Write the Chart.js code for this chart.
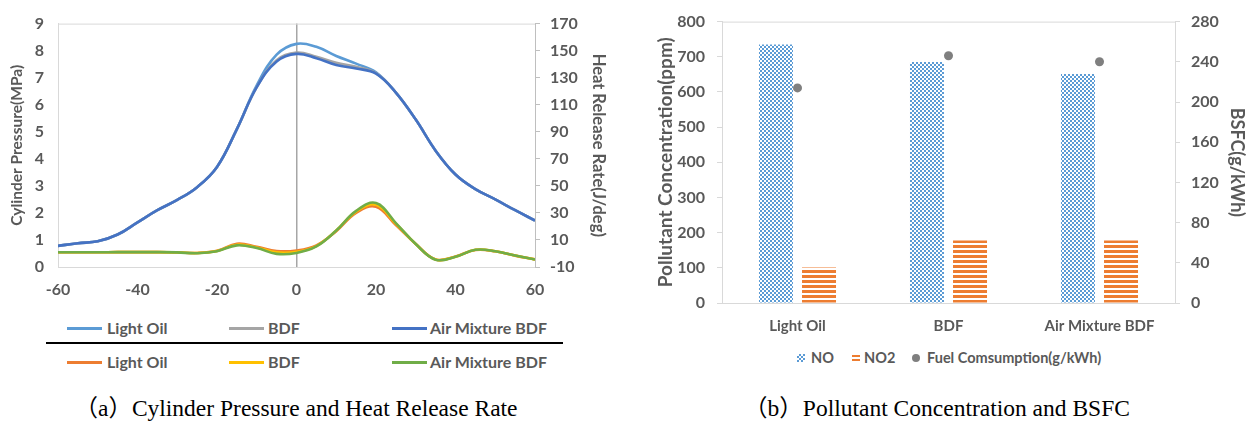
<html>
<head>
<script src="https://cdn.jsdelivr.net/npm/chart.js"></script>
<style>
  body { margin: 0; background: #fff; }
  #wrap { position: relative; width: 1255px; height: 425px; overflow: hidden; font-family: Lato, sans-serif; font-weight: bold; color: #595959; }
  .abs { position: absolute; }
  .lg { position: absolute; font-size: 16px; line-height: 18px; white-space: nowrap; }
  .ln { position: absolute; height: 3px; width: 35px; }
  .cap { position: absolute; font-family: "Liberation Serif", "Noto Sans CJK SC", serif; font-weight: normal; color: #000; font-size: 23.5px; line-height: 28px; white-space: nowrap; transform: translateX(-50%); }
  .lg2 { position: absolute; font-size: 14.5px; line-height: 16px; white-space: nowrap; }
</style>
</head>
<body>
<div id="wrap">
  <canvas id="pressureChart" class="abs" style="left:0;top:0" width="620" height="300"></canvas>
  <canvas id="emissionChart" class="abs" style="left:630px;top:0" width="625" height="340"></canvas>

  <!-- legend (a) -->
  <div class="ln" style="left:67px;top:327px;background:#5B9BD5"></div>
  <div class="lg" style="left:107px;top:319px">Light Oil</div>
  <div class="ln" style="left:229px;top:327px;background:#A5A5A5"></div>
  <div class="lg" style="left:268px;top:319px">BDF</div>
  <div class="ln" style="left:392px;top:327px;background:#4472C4"></div>
  <div class="lg" style="left:430px;top:319px">Air Mixture BDF</div>
  <div class="abs" style="left:46px;top:342px;width:517px;height:2px;background:#000"></div>
  <div class="ln" style="left:67px;top:361px;background:#ED7D31"></div>
  <div class="lg" style="left:107px;top:353px">Light Oil</div>
  <div class="ln" style="left:229px;top:361px;background:#FFC000"></div>
  <div class="lg" style="left:268px;top:353px">BDF</div>
  <div class="ln" style="left:392px;top:361px;background:#70AD47"></div>
  <div class="lg" style="left:430px;top:353px">Air Mixture BDF</div>
  <div class="cap" style="left:296px;top:394px">（a）Cylinder Pressure and Heat Release Rate</div>

  <!-- legend (b) -->
  <div class="abs" style="left:797px;top:354px;width:8px;height:8px;background-image:conic-gradient(#5B9BD5 25%, #fff 0 50%, #5B9BD5 0 75%, #fff 0);background-size:4px 4px"></div>
  <div class="lg2" style="left:811px;top:350px">NO</div>
  <div class="abs" style="left:852px;top:355px;width:8px;height:7px;background:repeating-linear-gradient(#ED7D31 0 2px, #fff 2px 4px)"></div>
  <div class="lg2" style="left:864px;top:350px">NO2</div>
  <div class="abs" style="left:912px;top:354px;width:8px;height:8px;border-radius:50%;background:#7f7f7f"></div>
  <div class="lg2" style="left:927px;top:350px">Fuel Comsumption(g/kWh)</div>
  <div class="cap" style="left:937px;top:394px">（b）Pollutant Concentration and BSFC</div>
</div>

<script>
// crank angle (deg)
const angles = [-60, -55, -50, -45, -40, -35, -30, -25, -20, -15, -10, -5, 0, 5, 10, 15, 20, 25, 30, 35, 40, 45, 50, 55, 60]

// cylinder pressure (MPa)
const pressureLightOil = [0.78, 0.88, 0.95, 1.2, 1.65, 2.1, 2.48, 2.95, 3.7, 5.1, 6.72, 7.85, 8.25, 8.14, 7.8, 7.52, 7.2, 6.45, 5.45, 4.3, 3.42, 2.88, 2.5, 2.1, 1.72]
const pressureBDF = [0.78, 0.88, 0.95, 1.2, 1.65, 2.1, 2.48, 2.95, 3.7, 5.1, 6.65, 7.65, 7.93, 7.77, 7.55, 7.4, 7.17, 6.45, 5.45, 4.3, 3.42, 2.88, 2.5, 2.1, 1.72]
const pressureAirMix = [0.78, 0.88, 0.95, 1.2, 1.65, 2.1, 2.48, 2.95, 3.7, 5.1, 6.65, 7.6, 7.88, 7.72, 7.47, 7.34, 7.15, 6.45, 5.45, 4.3, 3.42, 2.88, 2.5, 2.1, 1.72]

// heat release rate (J/deg)
const hrrLightOil = [0.9, 0.9, 0.9, 1.0, 1.0, 1.0, 0.8, 0.4, 2.0, 7.2, 5.0, 1.8, 2.2, 6.0, 16.5, 30, 34.5, 21, 7, -4.5, -2.2, 2.6, 1.6, -1.6, -4.4]
const hrrBDF = [0.9, 0.9, 0.9, 1.0, 1.0, 1.0, 0.8, 0.3, 1.8, 6.5, 4.4, 0.8, 1.2, 5.5, 17, 31, 36, 22, 7, -4.5, -2.4, 2.7, 1.7, -1.5, -4.4]
const hrrAirMix = [0.9, 0.9, 0.9, 1.0, 1.0, 1.0, 0.8, 0.2, 1.7, 6.0, 4.0, -0.3, 0.4, 5.2, 17, 31.5, 37.3, 22.5, 7, -4.6, -2.5, 2.7, 1.7, -1.5, -4.5]

// emissions / BSFC
const fuels = ['Light Oil', 'BDF', 'Air Mixture BDF']
const noPpm = [735, 685, 651]
const no2Ppm = [101, 178, 178]
const bsfc = [214, 246, 240]

const GREY = '#595959'
Chart.defaults.font.family = 'Lato'
Chart.defaults.font.weight = 'bold'
Chart.defaults.color = GREY

function bold(size) {
    return { size: size, weight: 'bold' }
}

function toPoints(ys) {
    return ys.map((y, i) => ({ x: angles[i], y: y }))
}

function lineSet(label, ys, color, axis, order) {
    return {
        label: label,
        data: toPoints(ys),
        borderColor: color,
        backgroundColor: color,
        borderWidth: 2.6,
        pointRadius: 0,
        tension: 0.4,
        yAxisID: axis,
        order: order,
    }
}

// top edge of the plot frame
const frameTop = {
    id: 'frameTop',
    afterDraw(chart) {
        const { ctx, chartArea } = chart
        ctx.save()
        ctx.strokeStyle = '#d9d9d9'
        ctx.lineWidth = 1
        ctx.beginPath()
        ctx.moveTo(chartArea.left, chartArea.top + 0.5)
        ctx.lineTo(chartArea.right, chartArea.top + 0.5)
        ctx.stroke()
        ctx.restore()
    },
}

new Chart(document.getElementById('pressureChart'), {
    type: 'line',
    data: {
        datasets: [
            lineSet('Light Oil', pressureLightOil, '#5B9BD5', 'y', 6),
            lineSet('BDF', pressureBDF, '#A5A5A5', 'y', 5),
            lineSet('Air Mixture BDF', pressureAirMix, '#4472C4', 'y', 4),
            lineSet('Light Oil', hrrLightOil, '#ED7D31', 'y1', 3),
            lineSet('BDF', hrrBDF, '#FFC000', 'y1', 2),
            lineSet('Air Mixture BDF', hrrAirMix, '#70AD47', 'y1', 1),
        ],
    },
    options: {
        responsive: false,
        animation: false,
        layout: { padding: { top: 16 } },
        plugins: { legend: { display: false }, tooltip: { enabled: false } },
        scales: {
            x: {
                type: 'linear',
                min: -60,
                max: 60,
                ticks: { stepSize: 20, padding: 13, font: bold(16) },
                grid: {
                    drawTicks: false,
                    color: (c) => (c.tick && c.tick.value === 0 ? '#a6a6a6' : 'rgba(0,0,0,0)'),
                    lineWidth: 1.5,
                },
                border: { color: '#d9d9d9' },
                afterFit: (s) => { s.height = 33 },
            },
            y: {
                position: 'left',
                min: 0,
                max: 9,
                ticks: { stepSize: 1, padding: 14, font: bold(16) },
                grid: { drawOnChartArea: false, drawTicks: false },
                border: { color: '#d9d9d9' },
                title: { display: true, text: 'Cylinder Pressure(MPa)', font: bold(15.5), padding: { top: 8 } },
                afterFit: (s) => { s.width = 58 },
            },
            y1: {
                position: 'right',
                min: -10,
                max: 170,
                ticks: { stepSize: 20, padding: 10, font: bold(16) },
                grid: { drawOnChartArea: false, tickLength: 5, color: '#bfbfbf' },
                border: { color: '#bfbfbf' },
                title: { display: true, text: 'Heat Release Rate(J/deg)', font: bold(16.5), padding: { top: 12 } },
                afterFit: (s) => { s.width = 85 },
            },
        },
    },
    plugins: [frameTop],
})

// fill patterns for the bars
function checkerPattern() {
    const c = document.createElement('canvas')
    c.width = 4
    c.height = 4
    const g = c.getContext('2d')
    g.fillStyle = '#ffffff'
    g.fillRect(0, 0, 4, 4)
    g.fillStyle = '#5B9BD5'
    g.fillRect(0, 0, 2, 2)
    g.fillRect(2, 2, 2, 2)
    return g.createPattern(c, 'repeat')
}

function stripePattern() {
    const c = document.createElement('canvas')
    c.width = 4
    c.height = 5
    const g = c.getContext('2d')
    g.fillStyle = '#ffffff'
    g.fillRect(0, 0, 4, 5)
    g.fillStyle = '#ED7D31'
    g.fillRect(0, 0, 4, 3)
    return g.createPattern(c, 'repeat')
}

new Chart(document.getElementById('emissionChart'), {
    type: 'bar',
    data: {
        labels: fuels,
        datasets: [
            {
                label: 'NO',
                data: noPpm,
                backgroundColor: checkerPattern(),
                categoryPercentage: 0.57,
                barPercentage: 0.79,
                yAxisID: 'y',
                order: 2,
            },
            {
                label: 'NO2',
                data: no2Ppm,
                backgroundColor: stripePattern(),
                categoryPercentage: 0.57,
                barPercentage: 0.79,
                yAxisID: 'y',
                order: 2,
            },
            {
                type: 'line',
                label: 'Fuel Comsumption(g/kWh)',
                data: bsfc,
                showLine: false,
                pointRadius: 4.5,
                pointBorderWidth: 0,
                pointBackgroundColor: '#7f7f7f',
                backgroundColor: '#7f7f7f',
                yAxisID: 'y1',
                order: 1,
            },
        ],
    },
    options: {
        responsive: false,
        animation: false,
        layout: { padding: { top: 16 } },
        plugins: { legend: { display: false }, tooltip: { enabled: false } },
        scales: {
            x: {
                ticks: { padding: 14, font: bold(15) },
                grid: { drawOnChartArea: false, drawTicks: false },
                border: { color: '#d9d9d9' },
                afterFit: (s) => { s.height = 37 },
            },
            y: {
                position: 'left',
                min: 0,
                max: 800,
                ticks: { stepSize: 100, padding: 12, font: bold(16) },
                grid: { drawOnChartArea: false, tickLength: 5, color: '#d9d9d9' },
                border: { color: '#d9d9d9' },
                title: { display: true, text: 'Pollutant Concentration(ppm)', font: bold(19), padding: { top: 24 } },
                afterFit: (s) => { s.width = 92 },
            },
            y1: {
                position: 'right',
                min: 0,
                max: 280,
                ticks: { stepSize: 40, padding: 11, font: bold(16) },
                grid: { drawOnChartArea: false, tickLength: 5, color: '#d9d9d9' },
                border: { color: '#d9d9d9' },
                title: { display: true, text: 'BSFC(g/kWh)', font: bold(18), padding: { top: 7 } },
                afterFit: (s) => { s.width = 80 },
            },
        },
    },
    plugins: [frameTop],
})
</script>
</body>
</html>
